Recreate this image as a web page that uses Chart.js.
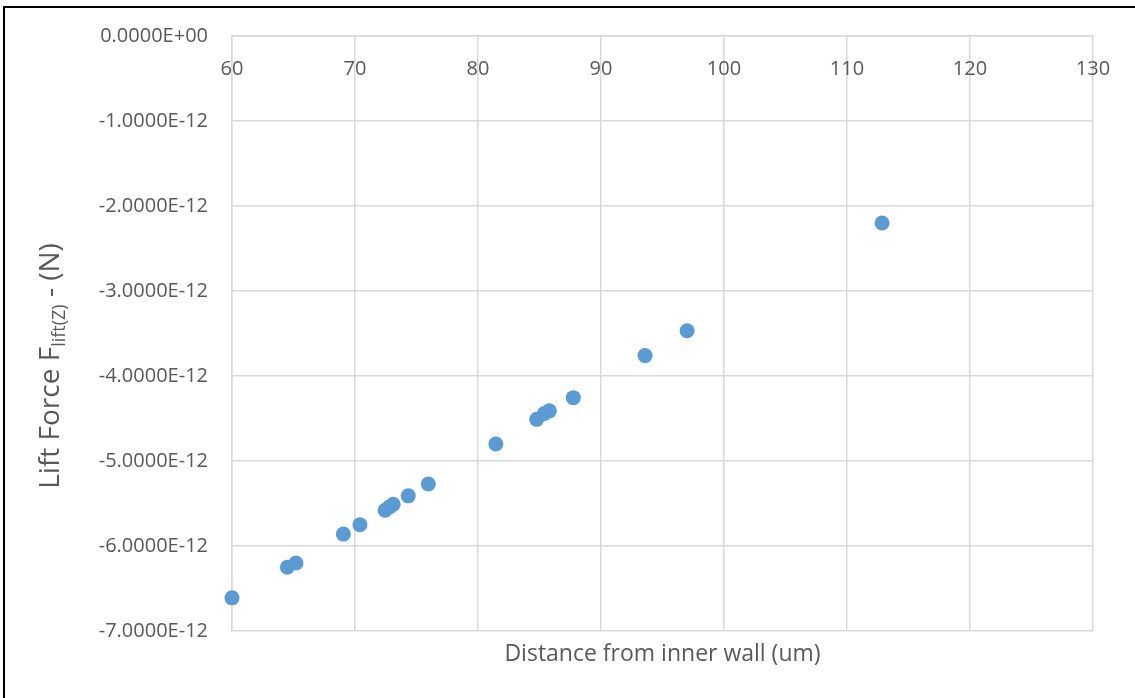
<!DOCTYPE html>
<html>
<head>
<meta charset="utf-8">
<script src="https://cdn.jsdelivr.net/npm/chart.js@4/dist/chart.umd.min.js"></script>
<style>
  html, body { margin: 0; padding: 0; background: #fff; overflow: hidden; }
  #wrap { position: relative; width: 1135px; height: 698px; }
  #frame { position: absolute; left: 3px; top: 6px; width: 1200px; height: 800px;
           border: 2px solid #000; pointer-events: none; box-sizing: border-box; }
</style>
</head>
<body>
<div id="wrap">
  <canvas id="chart" width="1135" height="698"></canvas>
  <div id="frame"></div>
</div>
<script>
// Particle position (um) and lift force (N)
const distanceUm = [60.0, 64.5, 65.2, 69.05, 70.4, 72.45, 72.8, 73.1, 74.33, 75.96,
                    81.45, 84.77, 85.4, 85.8, 87.75, 93.58, 97.0, 112.85];
const liftForceN = [-6.61e-12, -6.25e-12, -6.20e-12, -5.86e-12, -5.75e-12, -5.58e-12, -5.54e-12, -5.51e-12, -5.41e-12, -5.27e-12,
                    -4.80e-12, -4.51e-12, -4.44e-12, -4.41e-12, -4.255e-12, -3.76e-12, -3.467e-12, -2.20e-12];

const xTickValues = [60, 70, 80, 90, 100, 110, 120, 130];
const yTickLabels = ['0.0000E+00', '-1.0000E-12', '-2.0000E-12', '-3.0000E-12',
                     '-4.0000E-12', '-5.0000E-12', '-6.0000E-12', '-7.0000E-12'];

const FONT = "'Open Sans', 'DejaVu Sans', sans-serif";
const TEXT = '#595959';
const GRID = '#D9D9D9';

const points = distanceUm.map((d, i) => ({ x: d, y: liftForceN[i] }));

// Rotated y-axis title with a subscript part
const yTitlePlugin = {
  id: 'yTitle',
  afterDraw(chart) {
    const { ctx } = chart;
    const parts = [
      { t: 'Lift Force F', size: 28, dy: 0 },
      { t: 'lift(Z)', size: 18, dy: 6 },
      { t: ' - (N)', size: 28, dy: 0 }
    ];
    ctx.save();
    let total = 0;
    parts.forEach(p => { ctx.font = p.size + 'px ' + FONT; p.w = ctx.measureText(p.t).width; total += p.w; });
    ctx.translate(59, 366);
    ctx.rotate(-Math.PI / 2);
    ctx.fillStyle = TEXT;
    ctx.textBaseline = 'alphabetic';
    ctx.textAlign = 'left';
    let x = -total / 2;
    parts.forEach(p => {
      ctx.font = p.size + 'px ' + FONT;
      ctx.fillText(p.t, x, p.dy);
      x += p.w;
    });
    ctx.restore();
  }
};

new Chart(document.getElementById('chart'), {
  type: 'scatter',
  data: {
    datasets: [{
      data: points,
      backgroundColor: '#5B9BD5',
      borderWidth: 0,
      pointRadius: 7.5,
      pointHoverRadius: 7.5,
      clip: false
    }]
  },
  options: {
    responsive: false,
    animation: false,
    events: [],
    layout: { padding: { left: 0, right: 42, top: 36, bottom: 0 } },
    plugins: { legend: { display: false }, tooltip: { enabled: false } },
    scales: {
      x: {
        type: 'linear',
        position: { y: 0 },
        min: 60, max: 130,
        afterBuildTicks: s => { s.ticks = xTickValues.map(v => ({ value: v })); },
        ticks: { color: TEXT, font: { family: FONT, size: 20 }, padding: 21, maxRotation: 0 },
        grid: { color: GRID, lineWidth: 1.5, drawTicks: false },
        border: { color: GRID, width: 1.5 }
      },
      xTitle: {
        type: 'linear',
        axis: 'x',
        position: 'bottom',
        min: 60, max: 130,
        ticks: { display: false },
        grid: { display: false },
        border: { display: false },
        afterFit: s => { s.height = 67; },
        title: {
          display: true,
          text: 'Distance from inner wall (um)',
          color: TEXT,
          font: { family: FONT, size: 23 },
          padding: { top: 0, bottom: 30 }
        }
      },
      y: {
        type: 'linear',
        position: 'left',
        min: -7e-12, max: 0,
        ticks: {
          stepSize: 1e-12,
          color: TEXT,
          font: { family: FONT, size: 20 },
          padding: 24,
          callback: v => yTickLabels[Math.round(-v / 1e-12)]
        },
        afterFit: s => { s.width = 232; },
        grid: { color: GRID, lineWidth: 1.5, drawTicks: false },
        border: { color: GRID, width: 1.5 }
      }
    }
  },
  plugins: [yTitlePlugin]
});
</script>
</body>
</html>
